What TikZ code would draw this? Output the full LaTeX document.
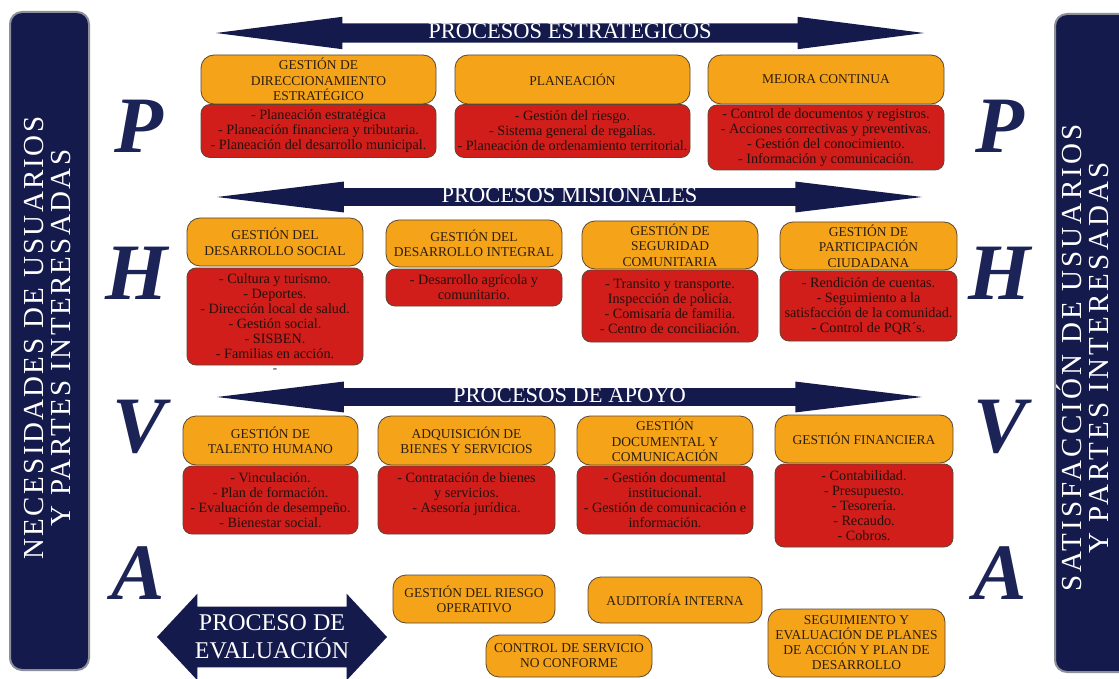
\documentclass[tikz,border=0pt]{standalone}
\usepackage{fontspec}
\setmainfont{Liberation Serif}
\newfontfamily\sidefont[LetterSpace=8]{Liberation Serif}
\newfontfamily\sidefontwide[LetterSpace=11]{Liberation Serif}
\usepackage{tikz}
\usetikzlibrary{shapes.arrows}
\definecolor{PHNavy}{HTML}{141A4C}
\definecolor{PHLetter}{HTML}{1C2356}
\definecolor{PHGray}{HTML}{8C909A}
\definecolor{PHOrange}{HTML}{F5A41A}
\definecolor{PHRed}{HTML}{D11E1B}
\definecolor{PHEdge}{HTML}{5A4632}
\definecolor{PHInk}{HTML}{2E1E10}
\definecolor{PHInkRed}{HTML}{24100C}
\tikzset{
  sidebar/.style={draw=PHGray,line width=2pt,fill=PHNavy,rounded corners=12pt},
  sidetext/.style={text=white,font=\sidefont\fontsize{29}{27}\selectfont,align=center,rotate=90},
  banner/.style={double arrow,fill=PHNavy,text=white,inner xsep=4pt,inner ysep=1pt,
                 font=\fontsize{22.5}{24}\selectfont,double arrow head extend=6.5pt},
  cycleletter/.style={text=PHLetter,font=\fontsize{80}{80}\selectfont\bfseries\itshape,inner sep=0pt},
  procbox/.style={draw=PHEdge,line width=0.8pt,fill=PHOrange,rounded corners=13pt,
                  text=PHInk,align=center,inner xsep=1pt,inner ysep=1pt,
                  font=\fontsize{13.5}{15.5}\selectfont},
  evalbox/.style={procbox,font=\fontsize{13.5}{15}\selectfont},
  taskbox/.style={draw=PHEdge,line width=0.8pt,fill=PHRed,rounded corners=9pt,
                  text=PHInkRed,align=center,inner xsep=1pt,inner ysep=1pt,
                  font=\fontsize{14.2}{15}\selectfont},
}
\begin{document}
\begin{tikzpicture}[x=1pt,y=-1pt]
  \useasboundingbox (0,0) rectangle (1119,679);

  \node[sidebar,minimum width=79,minimum height=658] (needs) at (49.5,341) {};
  \node[sidetext] (needst) at (48,338) {NECESIDADES DE USUARIOS\\Y PARTES INTERESADAS};
  \node[sidebar,minimum width=90,minimum height=658] (satis) at (1100,343) {};
  \node[sidetext,font=\sidefontwide\fontsize{29}{27}\selectfont] (satist) at (1083,358)
    {SATISFACCIÓN DE USUARIOS\\Y PARTES INTERESADAS};

  \node[cycleletter] (pl) at (139,126) {P};
  \node[cycleletter] (hl) at (137,273) {H};
  \node[cycleletter] (vl) at (139,427) {V};
  \node[cycleletter] (al) at (138,573) {A};
  \node[cycleletter] (pr) at (1000,126) {P};
  \node[cycleletter] (hr) at (1000,273) {H};
  \node[cycleletter] (vr) at (1000,427) {V};
  \node[cycleletter] (ar) at (1000,573) {A};

  \node[banner,minimum height=708,minimum width=32,double arrow tip angle=14.6,
        text height=14pt,text depth=3pt] (strat) at (570,33) {PROCESOS ESTRATÉGICOS};
  \node[banner,minimum height=705,minimum width=30,double arrow tip angle=13.9,
        text height=13pt,text depth=2.5pt] (misio) at (569.5,197) {PROCESOS MISIONALES};
  \node[banner,minimum height=705,minimum width=30,double arrow tip angle=13.9,
        text height=13pt,text depth=2.5pt] (apoyo) at (569.5,397) {PROCESOS DE APOYO};
  \node[banner,minimum height=230,minimum width=86,double arrow head extend=13pt,
        double arrow tip angle=94,align=center,inner xsep=0pt,inner ysep=8pt,
        font=\fontsize{24}{28}\selectfont] (evalu) at (272,637) {PROCESO DE\\EVALUACIÓN};

  \node[procbox,minimum width=235,minimum height=49] (direc) at (318.5,79.5)
    {GESTIÓN DE\\DIRECCIONAMIENTO\\ESTRATÉGICO};
  \node[taskbox,minimum width=235,minimum height=53] (direcb) at (318.5,131)
    {- Planeación estratégica\\- Planeación financiera y tributaria.\\- Planeación del desarrollo municipal.};
  \node[procbox,minimum width=235,minimum height=49] (planea) at (572.5,79.5) {PLANEACIÓN};
  \node[taskbox,minimum width=235,minimum height=53] (planeab) at (572.5,131)
    {- Gestión del riesgo.\\- Sistema general de regalías.\\- Planeación de ordenamiento territorial.};
  \node[procbox,minimum width=236,minimum height=49] (mejora) at (826,79.5) {MEJORA CONTINUA};
  \node[taskbox,minimum width=236,minimum height=65] (mejorab) at (826,137.5)
    {- Control de documentos y registros.\\- Acciones correctivas y preventivas.\\- Gestión del conocimiento.\\- Información y comunicación.};

  \node[procbox,minimum width=176,minimum height=48] (social) at (275,242)
    {GESTIÓN DEL\\DESARROLLO SOCIAL};
  \node[taskbox,minimum width=176,minimum height=97] (socialb) at (275,316.5)
    {- Cultura y turismo.\\- Deportes.\\- Dirección local de salud.\\- Gestión social.\\- SISBEN.\\- Familias en acción.};
  \node[text=PHInk,font=\fontsize{13}{15}\selectfont] (stray) at (275,371) {-};
  \node[procbox,minimum width=176,minimum height=47] (integral) at (474,243.5)
    {GESTIÓN DEL\\DESARROLLO INTEGRAL};
  \node[taskbox,minimum width=176,minimum height=37] (integralb) at (474,287.5)
    {- Desarrollo agrícola y\\comunitario.};
  \node[procbox,minimum width=176,minimum height=48] (segur) at (670,245)
    {GESTIÓN DE\\SEGURIDAD\\COMUNITARIA};
  \node[taskbox,minimum width=176,minimum height=72] (segurb) at (670,306)
    {- Transito y transporte.\\Inspección de policía.\\- Comisaría de familia.\\- Centro de conciliación.};
  \node[procbox,minimum width=177,minimum height=48] (partic) at (868.5,246)
    {GESTIÓN DE\\PARTICIPACIÓN\\CIUDADANA};
  \node[taskbox,minimum width=177,minimum height=70] (particb) at (868.5,306)
    {- Rendición de cuentas.\\- Seguimiento a la\\satisfacción de la comunidad.\\- Control de PQR´s.};

  \node[procbox,minimum width=175,minimum height=49] (talento) at (270.5,440.5)
    {GESTIÓN DE\\TALENTO HUMANO};
  \node[taskbox,minimum width=175,minimum height=68] (talentob) at (270.5,500)
    {- Vinculación.\\- Plan de formación.\\- Evaluación de desempeño.\\- Bienestar social.};
  \node[procbox,minimum width=177,minimum height=49] (adquis) at (466.5,440.5)
    {ADQUISICIÓN DE\\BIENES Y SERVICIOS};
  \node[taskbox,minimum width=177,minimum height=68] (adquisb) at (466.5,500)
    {- Contratación de bienes\\y servicios.\\- Asesoría jurídica.\\\mbox{}};
  \node[procbox,minimum width=176,minimum height=49] (docum) at (665,440.5)
    {GESTIÓN\\DOCUMENTAL Y\\COMUNICACIÓN};
  \node[taskbox,minimum width=176,minimum height=68] (documb) at (665,500)
    {- Gestión documental\\institucional.\\- Gestión de comunicación e\\información.};
  \node[procbox,minimum width=178,minimum height=48] (financ) at (864,439) {GESTIÓN FINANCIERA};
  \node[taskbox,minimum width=178,minimum height=83] (financb) at (864,505.5)
    {- Contabilidad.\\- Presupuesto.\\- Tesorería.\\- Recaudo.\\- Cobros.};

  \node[evalbox,minimum width=162,minimum height=48] (riesgo) at (474,599)
    {GESTIÓN DEL RIESGO\\OPERATIVO};
  \node[evalbox,minimum width=174,minimum height=46] (audit) at (675,600) {AUDITORÍA INTERNA};
  \node[evalbox,minimum width=166,minimum height=42] (control) at (569,656)
    {CONTROL DE SERVICIO\\NO CONFORME};
  \node[evalbox,minimum width=177,minimum height=68] (seguim) at (856.5,643)
    {SEGUIMIENTO Y\\EVALUACIÓN DE PLANES\\DE ACCIÓN Y PLAN DE\\DESARROLLO};
\end{tikzpicture}
\end{document}
